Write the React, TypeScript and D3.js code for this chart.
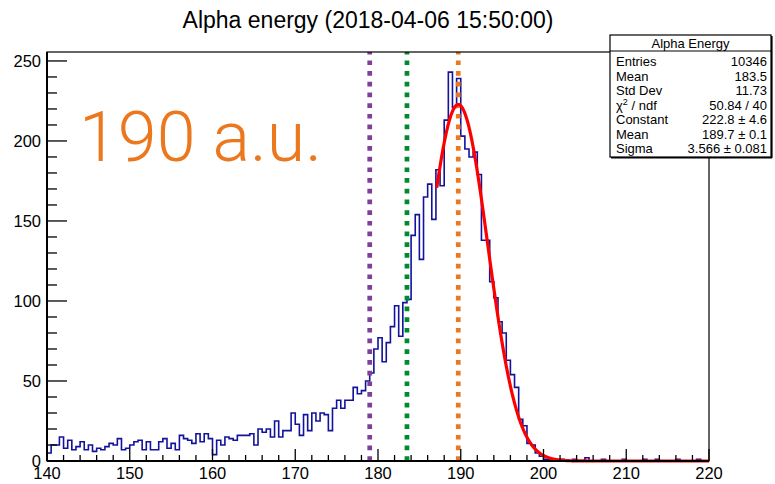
import React from "react";
import * as d3 from "d3";

// ---- data ----
const binLow = 140;
const binWidth = 0.5;
const counts: number[] = [
  5, 10, 10, 15, 8, 13, 7, 9, 12, 7, 10, 6, 8, 7, 9, 11, 10, 14, 7, 8,
  10, 12, 13, 7, 12, 7, 7, 12, 14, 8, 11, 7, 16, 14, 13, 11, 17, 12, 17, 14,
  4, 13, 10, 15, 14, 13, 16, 16, 16, 17, 10, 20, 18, 20, 15, 25, 15, 19, 19, 30,
  23, 16, 29, 19, 30, 25, 30, 29, 19, 33, 38, 33, 38, 38, 46, 42, 44, 50, 55,
  70, 77, 62, 74, 84, 97, 78, 99, 101, 141, 154, 126, 165, 173, 151, 182, 172, 213, 243, 221, 239,
  203, 195, 190, 193, 179, 138, 138, 112, 102, 87, 80, 63, 54, 46, 26, 22, 11, 10, 5, 3, 1,
  1, 0, 0, 1, 0, 0, 1, 0, 0, 2, 0, 0, 0, 1, 0, 0, 0, 0, 1, 0,
  0, 0, 0, 1, 0, 0, 1, 0, 0, 0, 0, 1, 0, 0, 0, 0, 1, 0, 0,
];
const xTicks = [140, 150, 160, 170, 180, 190, 200, 210, 220];
const yTicks = [0, 50, 100, 150, 200, 250];
const markerValues = [179.0, 183.5, 189.7];
const markerColors = ["#7f3f99", "#008a30", "#eb781e"];
const fitConstant = 222.8;
const fitMean = 189.7;
const fitSigma = 3.566;
const fitRange = [187.1, 220];
const statsTitle = "Alpha Energy";
const statsLabels = ["Entries", "Mean", "Std Dev", "CHI", "Constant", "Mean", "Sigma"];
const statsValues = ["10346", "183.5", "11.73", "50.84 / 40", "222.8 \u00b1 4.6", "189.7 \u00b1 0.1", "3.566 \u00b1 0.081"];
const titleText = "Alpha energy (2018-04-06 15:50:00)";
const bigLabel = "190 a.u.";

const FONT = "'Liberation Sans', Arial, Helvetica, sans-serif";

export default function App() {
  const x = d3.scaleLinear().domain([140, 220]).range([47, 709]);
  const y = d3.scaleLinear().domain([0, 255.6]).range([461, 52]);

  // histogram step path
  let hp = `M${x(binLow)},${y(0)}`;
  counts.forEach((c, i) => {
    const x1 = x(binLow + (i + 1) * binWidth);
    hp += `V${y(c)}H${x1}`;
  });
  hp += `V${y(0)}`;

  const fitPts = d3.range(fitRange[0], fitRange[1] + 0.001, 0.05).map((v) => [
    v,
    fitConstant * Math.exp(-0.5 * ((v - fitMean) / fitSigma) ** 2),
  ]);
  const fitLine = d3
    .line<number[]>()
    .x((d) => x(d[0]))
    .y((d) => y(d[1]))(fitPts) as string;

  const xMinor = d3.range(140, 220.001, 2);
  const yMinor = d3.range(0, 255, 10);

  const fx0 = 47, fx1 = 709, fy0 = 52, fy1 = 461;

  return (
    <div style={{ position: "absolute", left: 0, top: 0 }}>
      <svg width={775} height={484} style={{ display: "block", background: "#fff" }}>
        <rect x={0} y={0} width={775} height={484} fill="#fff" />
        {/* title */}
        <text x={368} y={28} fontFamily={FONT} fontSize={23} textAnchor="middle" fill="#000">
          {titleText}
        </text>

        {/* histogram */}
        <path d={hp} fill="none" stroke="#12129c" strokeWidth={1.6} />

        {/* marker lines */}
        {markerValues.map((v, i) => (
          <line
            key={i}
            x1={x(v)}
            x2={x(v)}
            y1={fy1}
            y2={fy0}
            stroke={markerColors[i]}
            strokeWidth={4.7}
            strokeDasharray="4.7 6"
          />
        ))}

        {/* fit */}
        <path d={fitLine} fill="none" stroke="#ff0000" strokeWidth={3.2} strokeLinejoin="round" />

        {/* frame */}
        <rect x={fx0} y={fy0} width={fx1 - fx0} height={fy1 - fy0} fill="none" stroke="#000" strokeWidth={1.2} />
        <line x1={fx0} x2={fx0} y1={fy0} y2={fy1} stroke="#000" strokeWidth={2} />
        <line x1={fx0} x2={fx1} y1={fy1} y2={fy1} stroke="#000" strokeWidth={2} />

        {/* x ticks */}
        {xMinor.map((v) => {
          const major = xTicks.includes(v);
          return (
            <line key={"xm" + v} x1={x(v)} x2={x(v)} y1={fy1} y2={fy1 - (major ? 12 : 6)} stroke="#000" strokeWidth={1.3} />
          );
        })}
        {xTicks.map((v) => (
          <text key={"xl" + v} x={x(v)} y={479} fontFamily={FONT} fontSize={16.5} textAnchor="middle" fill="#000">
            {v}
          </text>
        ))}

        {/* y ticks */}
        {yMinor.map((v) => {
          const major = yTicks.includes(v);
          return (
            <line key={"ym" + v} x1={fx0} x2={fx0 + (major ? 20 : 10)} y1={y(v)} y2={y(v)} stroke="#000" strokeWidth={1.3} />
          );
        })}
        {yTicks.map((v) => (
          <text key={"yl" + v} x={41} y={y(v) + 6} fontFamily={FONT} fontSize={16.5} textAnchor="end" fill="#000">
            {v}
          </text>
        ))}

        {/* big label */}
        <text x={79} y={161} fontFamily="Roboto, 'Open Sans', sans-serif" fontWeight={300} fontSize={70} fill="#eb781e">
          {bigLabel}
        </text>

        {/* stats box */}
        <g fontFamily={FONT} fontSize={13} fill="#000">
          <rect x={610} y={35} width={161} height={122} fill="#fff" stroke="#000" strokeWidth={1.2} />
          <line x1={611} x2={772} y1={157.8} y2={157.8} stroke="#000" strokeWidth={1.6} />
          <line x1={771.8} x2={771.8} y1={36} y2={158} stroke="#000" strokeWidth={1.6} />
          <line x1={610} x2={771} y1={51} y2={51} stroke="#000" strokeWidth={1.2} />
          <text x={690.5} y={48} textAnchor="middle">{statsTitle}</text>
          {statsLabels.map((l, i) => (
            <g key={"s" + i}>
              <text x={616} y={66 + i * 14.5}>
                {l === "CHI" ? (
                  <>
                    {"\u03c7"}
                    <tspan fontSize={9} dy={-5}>2</tspan>
                    <tspan dy={5}>{" / ndf"}</tspan>
                  </>
                ) : (
                  l
                )}
              </text>
              <text x={767} y={66 + i * 14.5} textAnchor="end">{statsValues[i]}</text>
            </g>
          ))}
        </g>
      </svg>
    </div>
  );
}
